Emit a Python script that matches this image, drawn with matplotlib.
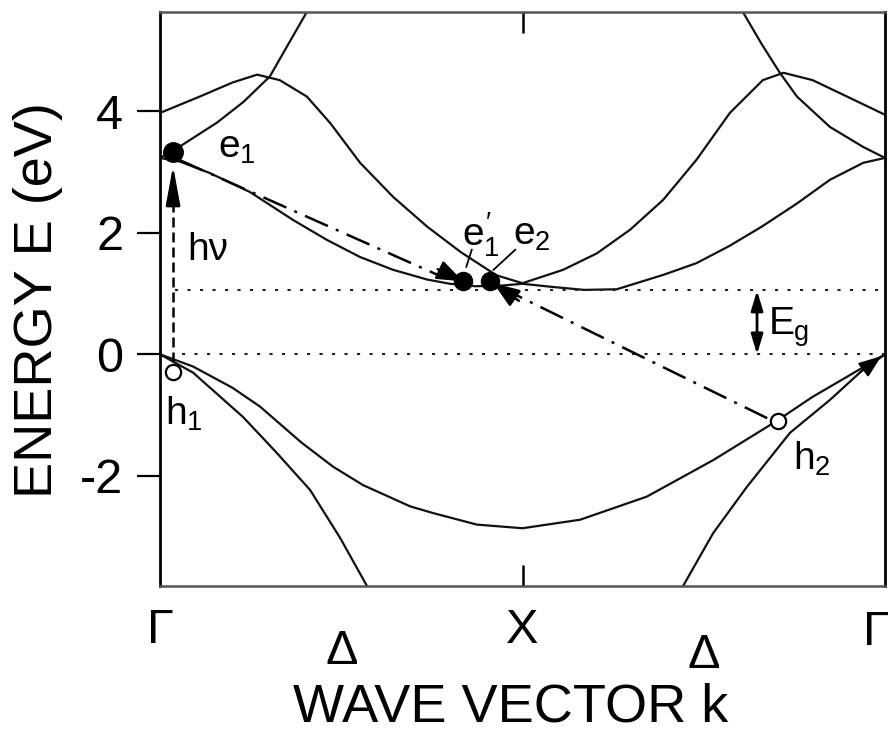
import numpy as np
import matplotlib
matplotlib.use("Agg")
import matplotlib.pyplot as plt

plt.rcParams['font.family'] = ['Liberation Sans', 'DejaVu Sans']
plt.rcParams['mathtext.fontset'] = 'custom'
plt.rcParams['mathtext.rm'] = 'Liberation Sans'
plt.rcParams['mathtext.it'] = 'Liberation Sans'
plt.rcParams['axes.unicode_minus'] = False

# k runs Gamma(0) -> X(1) -> Gamma(2), energies in eV
k_up_left = [0, 0.05, 0.157, 0.23, 0.303, 0.35, 0.405, 0.45]
e_up_left = [3.23, 3.40, 3.81, 4.15, 4.57, 5.06, 5.63, 6.2]
k_up_right = [1.56, 1.608, 1.66, 1.71, 1.757, 1.848, 1.94, 2.0]
e_up_right = [6.2, 5.63, 5.10, 4.63, 4.24, 3.74, 3.41, 3.23]

k_cb2 = [0, 0.11, 0.2, 0.268, 0.33, 0.405, 0.47, 0.552, 0.643, 0.737, 0.83, 0.928, 1.0,
         1.112, 1.205, 1.297, 1.388, 1.48, 1.572, 1.663, 1.72, 1.80, 1.895, 2.0]
e_cb2 = [3.97, 4.24, 4.47, 4.60, 4.51, 4.24, 3.80, 3.15, 2.59, 2.10, 1.68, 1.30, 1.17,
         1.39, 1.66, 2.05, 2.54, 3.20, 3.97, 4.51, 4.63, 4.51, 4.24, 3.94]

k_cb1 = [0, 0.055, 0.138, 0.248, 0.367, 0.461, 0.552, 0.643, 0.737, 0.80, 0.87, 0.94, 1.0,
         1.08, 1.17, 1.26, 1.39, 1.48, 1.57, 1.66, 1.757, 1.848, 1.94, 2.0]
e_cb1 = [3.23, 3.17, 2.98, 2.67, 2.21, 1.88, 1.60, 1.39, 1.23, 1.16, 1.12, 1.13, 1.16,
         1.11, 1.06, 1.07, 1.31, 1.50, 1.78, 2.10, 2.48, 2.87, 3.15, 3.23]

k_vb1 = [0, 0.091, 0.2, 0.276, 0.39, 0.478, 0.56, 0.69, 0.753, 0.874, 1.0,
         1.159, 1.343, 1.526, 1.70, 1.80, 1.895, 2.0]
e_vb1 = [0, -0.20, -0.55, -0.86, -1.45, -1.85, -2.15, -2.50, -2.61, -2.80, -2.86,
         -2.72, -2.34, -1.74, -1.10, -0.70, -0.37, 0]

k_vb2_left = [0, 0.091, 0.229, 0.322, 0.414, 0.497, 0.571, 0.60]
e_vb2_left = [0, -0.30, -1.03, -1.62, -2.23, -3.02, -3.81, -4.2]
k_vb2_right = [1.41, 1.443, 1.526, 1.619, 1.738, 1.848, 1.94, 2.0]
e_vb2_right = [-4.2, -3.81, -2.94, -2.18, -1.29, -0.75, -0.25, 0]

Eg = 1.05
k_e1, E_e1 = 0.036, 3.33
k_h1, E_h1 = 0.036, -0.29
k_e1p, E_e1p = 0.836, 1.20
k_e2, E_e2 = 0.91, 1.20
k_h2, E_h2 = 1.705, -1.10
k_egarrow = 1.647

x_ticklabels = ['Γ', 'Δ', 'X', 'Δ', 'Γ']
x_tickpos = [0, 0.5, 1, 1.5, 1.975]
x_tickbase = [-0.099, -0.136, -0.099, -0.143, -0.103]

fig = plt.figure(figsize=(8.88, 7.34), dpi=100)
ax = fig.add_axes([160 / 888, 148 / 734, 725 / 888, 574 / 734])
ax.set_xlim(0, 2)
ax.set_ylim(-3.81, 5.63)

band = dict(color='#111111', lw=1.6, solid_capstyle='round')
ax.plot(k_up_left, e_up_left, **band)
ax.plot(k_up_right, e_up_right, **band)
ax.plot(k_cb2, e_cb2, **band)
ax.plot(k_cb1, e_cb1, **band)
ax.plot(k_vb1, e_vb1, **band)
ax.plot(k_vb2_left, e_vb2_left, **band)
ax.plot(k_vb2_right, e_vb2_right, **band)

# band edges
ax.plot([0.04, 2], [Eg, Eg], color='#222222', lw=1.5, dashes=(1.5, 4.5))
ax.plot([0.06, 2], [0, 0], color='#222222', lw=1.5, dashes=(1.5, 4.5))

# optical excitation h1 -> e1
ax.plot([k_h1, k_h1], [E_h1 + 0.17, 2.6], color='k', lw=1.8, dashes=(4, 2))
ax.annotate('', xy=(k_e1, 3.10), xytext=(k_e1, 2.5),
            arrowprops=dict(arrowstyle='-|>,head_length=1.2,head_width=0.22',
                            mutation_scale=20, color='k', lw=1.8, shrinkA=0, shrinkB=0))

dashdot = (10, 3.5, 1.2, 3.5)
# e1 -> e1'
ax.plot([k_e1 + 0.02, k_e1p - 0.06], [E_e1 - 0.14, E_e1p + 0.08], color='k', lw=1.8, dashes=dashdot)
ax.annotate('', xy=(k_e1p, E_e1p), xytext=(k_e1p - 0.07, E_e1p + 0.2),
            arrowprops=dict(arrowstyle='-|>,head_length=0.8,head_width=0.3',
                            mutation_scale=20, color='k', lw=1.8, shrinkA=0, shrinkB=0))
# h2 -> e2
ax.plot([k_h2 - 0.03, k_e2 + 0.05], [E_h2 + 0.05, E_e2 - 0.16], color='k', lw=1.8, dashes=dashdot)
ax.annotate('', xy=(k_e2 + 0.01, E_e2 - 0.03), xytext=(k_e2 + 0.08, E_e2 - 0.32),
            arrowprops=dict(arrowstyle='-|>,head_length=0.8,head_width=0.3',
                            mutation_scale=20, color='k', lw=1.8, shrinkA=0, shrinkB=0))
# hole relaxing to the top of the valence band
ax.annotate('', xy=(1.99, -0.03), xytext=(1.93, -0.30),
            arrowprops=dict(arrowstyle='-|>,head_length=0.8,head_width=0.3',
                            mutation_scale=18, color='k', lw=1.2, shrinkA=0, shrinkB=0))

# Eg marker
ax.annotate('', xy=(k_egarrow, Eg), xytext=(k_egarrow, 0),
            arrowprops=dict(arrowstyle='<|-|>,head_length=0.6,head_width=0.18',
                            mutation_scale=20, color='k', lw=2.0, shrinkA=0, shrinkB=0))

# carriers
ax.plot([k_e1], [E_e1], 'o', color='k', ms=14)
ax.plot([k_e1p], [E_e1p], 'o', color='k', ms=13)
ax.plot([k_e2], [E_e2], 'o', color='k', ms=13)
ax.plot([k_h1], [E_h1], 'o', mfc='white', mec='k', mew=1.6, ms=11)
ax.plot([k_h2], [E_h2], 'o', mfc='white', mec='k', mew=1.6, ms=11)

# leader lines for e1', e2
ax.plot([0.86, 0.845], [1.72, 1.44], color='k', lw=1.3)
ax.plot([0.98, 0.92], [1.72, 1.39], color='k', lw=1.3)

txt = dict(fontsize=28, color='k')
ax.text(0.16, 3.23, r'$e_1$', **txt)
ax.text(0.074, 1.55, 'hν', **txt)
ax.text(0.013, -1.15, r'$h_1$', **txt)
ax.text(0.833, 1.77, r"$e_1^{\prime}$", **txt)
ax.text(0.974, 1.80, r'$e_2$', **txt)
ax.text(1.746, -1.90, r'$h_2$', **txt)
ax.text(1.677, 0.32, r'$E_g$', **txt)

# axes styling
for side in ['left', 'right']:
    ax.spines[side].set_linewidth(2.0)
    ax.spines[side].set_color('k')
for side in ['top', 'bottom']:
    ax.spines[side].set_linewidth(1.8)
    ax.spines[side].set_color('#555555')

ax.set_yticks([-2, 0, 2, 4])
ax.set_yticklabels(['-2', '0', '2', '4'])
ax.tick_params(axis='y', direction='out', length=16.5, width=1.6, pad=10, labelsize=35,
               colors='k')
ax.set_xticks([1])
ax.set_xticklabels([''])
ax.tick_params(axis='x', direction='in', length=15, width=1.8, top=True, bottom=True)

trans = ax.get_xaxis_transform()
for lab, pos, base in zip(x_ticklabels, x_tickpos, x_tickbase):
    ax.text(pos, base, lab, transform=trans, ha='center', va='baseline', fontsize=35,
            clip_on=False)

fig.text(511 / 888, 1 - 721 / 734, 'WAVE VECTOR k', ha='center', va='baseline', fontsize=39)
fig.text(38 / 888, 1 - 300 / 734, 'ENERGY E (eV)', ha='center', va='center',
         rotation=90, fontsize=39)

fig.savefig('out.png', dpi=100)
